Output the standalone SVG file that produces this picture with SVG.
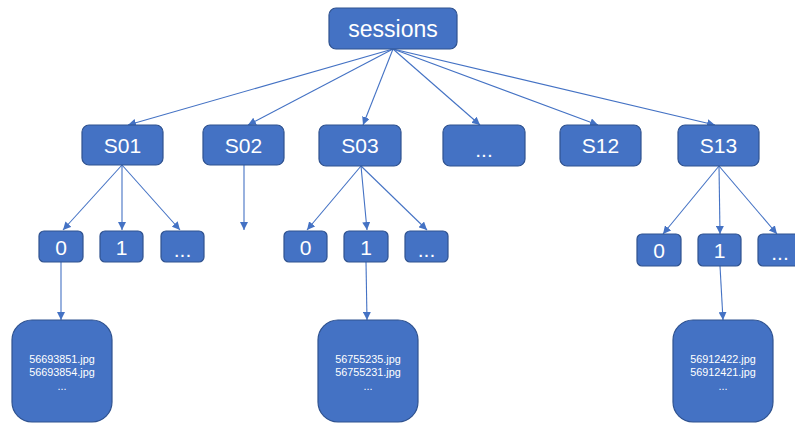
<svg xmlns="http://www.w3.org/2000/svg" width="795" height="423" viewBox="0 0 795 423">
<style>
.box{fill:#4472C4;stroke:#2F528F;stroke-width:1.2}
.t{fill:#ffffff;font-family:"Liberation Sans",Arial,sans-serif;text-anchor:middle}
.l{font-size:21px}
.s{font-size:10.8px}
.c{stroke:#4472C4;stroke-width:1.1;fill:none;marker-end:url(#ah)}
</style>
<defs>
<marker id="ah" viewBox="0 0 10 10" refX="10" refY="5" markerWidth="8" markerHeight="8" markerUnits="userSpaceOnUse" orient="auto">
<path d="M0,0 L10,5 L0,10 z" fill="#4472C4"/>
</marker>
</defs>
<g id="connectors">
<line class="c" x1="393" y1="49" x2="128" y2="125"/>
<line class="c" x1="393" y1="49" x2="248" y2="125"/>
<line class="c" x1="393" y1="49" x2="363" y2="125"/>
<line class="c" x1="393" y1="49" x2="480" y2="125"/>
<line class="c" x1="393" y1="49" x2="598" y2="125"/>
<line class="c" x1="393" y1="49" x2="715" y2="125"/>
<line class="c" x1="122" y1="165" x2="63" y2="230"/>
<line class="c" x1="122" y1="165" x2="122" y2="230"/>
<line class="c" x1="122" y1="165" x2="180" y2="230"/>
<line class="c" x1="244" y1="165" x2="244" y2="230"/>
<line class="c" x1="361" y1="166" x2="307" y2="230"/>
<line class="c" x1="361" y1="166" x2="367" y2="230"/>
<line class="c" x1="361" y1="166" x2="427" y2="230"/>
<line class="c" x1="719" y1="166" x2="663" y2="234"/>
<line class="c" x1="719" y1="166" x2="720" y2="234"/>
<line class="c" x1="719" y1="166" x2="777" y2="234"/>
<line class="c" x1="61" y1="262" x2="61" y2="320"/>
<line class="c" x1="366" y1="262" x2="367" y2="320"/>
<line class="c" x1="720" y1="266" x2="723" y2="320"/>
</g>
<g id="sessions"><rect class="box" x="329" y="8" width="128" height="41" rx="7"/><text class="t" x="393" y="37" font-size="23">sessions</text></g>
<g id="S01"><rect class="box" x="82" y="125" width="81" height="40" rx="7"/><text class="t l" x="122.5" y="152.5">S01</text></g>
<g id="S02"><rect class="box" x="203" y="125" width="81" height="40" rx="7"/><text class="t l" x="243.5" y="152.5">S02</text></g>
<g id="S03"><rect class="box" x="319" y="125" width="82" height="41" rx="7"/><text class="t l" x="360" y="153">S03</text></g>
<g id="Sdots"><rect class="box" x="443" y="125" width="82" height="41" rx="7"/><text class="t l" x="484" y="157">...</text></g>
<g id="S12"><rect class="box" x="560" y="125" width="81" height="41" rx="7"/><text class="t l" x="600.5" y="153">S12</text></g>
<g id="S13"><rect class="box" x="678" y="125" width="81" height="41" rx="7"/><text class="t l" x="718.5" y="153">S13</text></g>
<g id="S01-0"><rect class="box" x="39" y="231" width="44" height="31" rx="5"/><text class="t l" x="61" y="255">0</text></g>
<g id="S01-1"><rect class="box" x="100" y="231" width="43" height="31" rx="5"/><text class="t l" x="121.5" y="255">1</text></g>
<g id="S01-dots"><rect class="box" x="161" y="231" width="43" height="31" rx="5"/><text class="t l" x="182.5" y="257">...</text></g>
<g id="S03-0"><rect class="box" x="284" y="231" width="43" height="31" rx="5"/><text class="t l" x="305.5" y="255">0</text></g>
<g id="S03-1"><rect class="box" x="344" y="231" width="44" height="31" rx="5"/><text class="t l" x="366" y="255">1</text></g>
<g id="S03-dots"><rect class="box" x="405" y="231" width="43" height="31" rx="5"/><text class="t l" x="426.5" y="257">...</text></g>
<g id="S13-0"><rect class="box" x="637" y="234" width="44" height="32" rx="5"/><text class="t l" x="659" y="258">0</text></g>
<g id="S13-1"><rect class="box" x="698" y="234" width="43" height="32" rx="5"/><text class="t l" x="719.5" y="258">1</text></g>
<g id="S13-dots"><rect class="box" x="758" y="234" width="44" height="32" rx="5"/><text class="t l" x="780" y="260">...</text></g>
<g id="leaf1"><rect class="box" x="12" y="320" width="100" height="102" rx="20"/><text class="t s" x="62" y="363">56693851.jpg</text><text class="t s" x="62" y="376">56693854.jpg</text><text class="t s" x="62" y="390">...</text></g>
<g id="leaf2"><rect class="box" x="318" y="320" width="100" height="102" rx="20"/><text class="t s" x="368" y="363">56755235.jpg</text><text class="t s" x="368" y="376">56755231.jpg</text><text class="t s" x="368" y="390">...</text></g>
<g id="leaf3"><rect class="box" x="673" y="320" width="100" height="102" rx="20"/><text class="t s" x="723" y="363">56912422.jpg</text><text class="t s" x="723" y="376">56912421.jpg</text><text class="t s" x="723" y="390">...</text></g>
</svg>
